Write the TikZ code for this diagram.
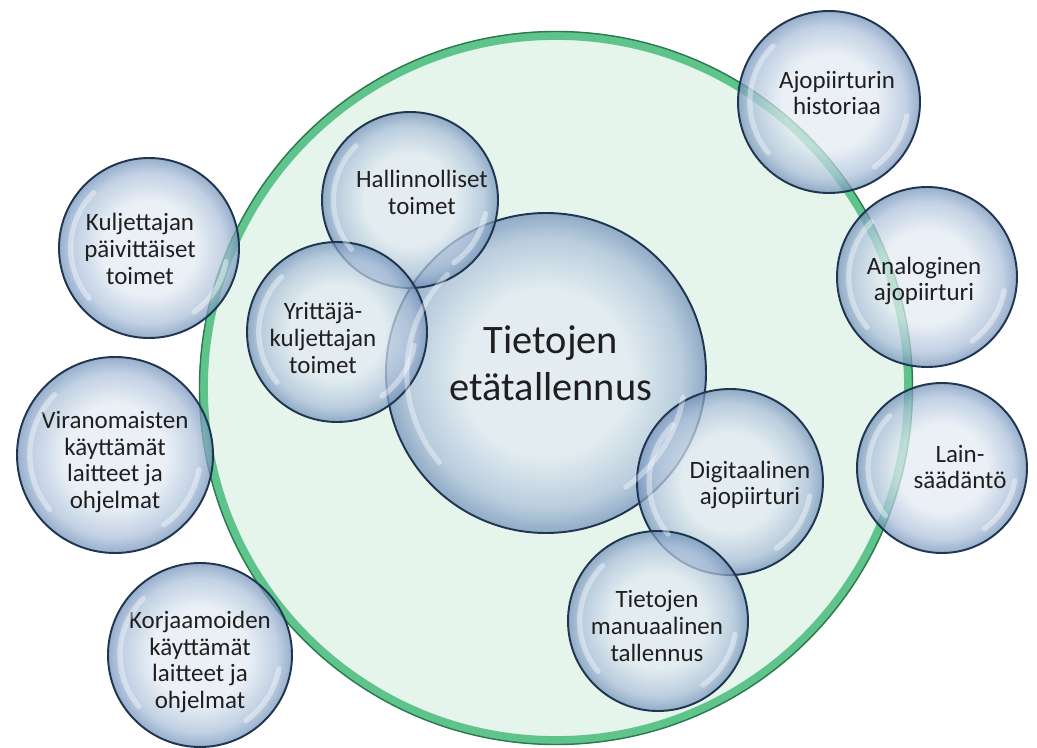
\documentclass[tikz,border=0pt]{standalone}
\usepackage{fontspec}
\setmainfont{Carlito}
\definecolor{bubblein}{HTML}{E2EAF3}
\definecolor{bubbleout}{HTML}{AABFD9}
\definecolor{bubblerim}{HTML}{6F8FB8}
\definecolor{bubbleedge}{HTML}{1F3550}
\definecolor{ringgreen}{HTML}{5EC48C}
\definecolor{ringdark}{HTML}{2B7A4B}
\definecolor{ringfill}{HTML}{E6F5EC}
% the inner 25bp of a radial shading cover the circle
\pgfdeclareradialshading{bubbleshade}{\pgfpoint{0bp}{0bp}}{color(0bp)=(bubblein); color(13bp)=(bubblein); color(21bp)=(bubbleout); color(25bp)=(bubblerim); color(50bp)=(bubblerim)}
\tikzset{
  bubble/.style={circle, draw=bubbleedge, line width=1.1pt, inner sep=0pt,
    shading=bubbleshade, fill opacity=0.72},
  bubtext/.style={align=center, text=black!88, font=\fontsize{14.2}{15.3}\selectfont},
  gloss/.style={white, line cap=round, opacity=0.4, line width=3pt},
}

\begin{document}
\begin{tikzpicture}[scale=1]

	\useasboundingbox (0,0) rectangle (20.74,14.94);

	% Green frame
	\fill[ringfill] (11.12,7.18) circle (7.12);
	\draw[ringgreen, line width=5pt] (11.12,7.18) circle (7.05);
	\draw[ringdark, line width=0.8pt] (11.12,7.18) circle (7.13);

	% Centre
	\node[bubble, minimum size=6.4cm] (main) at (10.92,7.48) {};
	\node[bubtext, font=\fontsize{23}{26.6}\selectfont] (main-t) at (11.02,7.68) {Tietojen\\etätallennus};

	% Inside the frame
	\node[bubble, minimum size=3.52cm] (hall) at (8.2,10.94) {};
	\node[bubtext] (hall-t) at (8.44,11.1) {Hallinnolliset\\toimet};

	\node[bubble, minimum size=3.6cm] (yrit) at (6.74,8.3) {};
	\node[bubtext] (yrit-t) at (6.46,8.18) {Yrittäjä-\\kuljettajan\\toimet};

	\node[bubble, minimum size=3.72cm] (digi) at (14.6,5.3) {};
	\node[bubtext] (digi-t) at (15.0,5.24) {Digitaalinen\\ajopiirturi};

	\node[bubble, minimum size=3.6cm] (manu) at (13.16,2.52) {};
	\node[bubtext] (manu-t) at (13.14,2.42) {Tietojen\\manuaalinen\\tallennus};

	% On the frame
	\node[bubble, minimum size=3.64cm] (hist) at (16.58,12.9) {};
	\node[bubtext] (hist-t) at (16.74,13.08) {Ajopiirturin\\historiaa};

	\node[bubble, minimum size=3.6cm] (anal) at (18.54,9.4) {};
	\node[bubtext] (anal-t) at (18.48,9.32) {Analoginen\\ajopiirturi};

	\node[bubble, minimum size=3.4cm] (lain) at (18.84,5.58) {};
	\node[bubtext] (lain-t) at (19.2,5.6) {Lain-\\säädäntö};

	% Outside the frame
	\node[bubble, minimum size=3.6cm] (kulj) at (2.98,9.98) {};
	\node[bubtext] (kulj-t) at (2.8,9.96) {Kuljettajan\\päivittäiset\\toimet};

	\node[bubble, minimum size=3.92cm] (viran) at (2.3,5.84) {};
	\node[bubtext] (viran-t) at (2.3,5.7) {Viranomaisten\\käyttämät\\laitteet ja\\ohjelmat};

	\node[bubble, minimum size=3.68cm] (korj) at (4.0,1.84) {};
	\node[bubtext] (korj-t) at (4.0,1.7) {Korjaamoiden\\käyttämät\\laitteet ja\\ohjelmat};

	% Gloss on the bubbles
	\foreach \n/\r in {main/3.2, hall/1.76, yrit/1.8, digi/1.86, manu/1.8, hist/1.82, anal/1.8, lain/1.7, kulj/1.8, viran/1.96, korj/1.84} {
		\draw[gloss] (\n.center) ++(135:{0.87*\r}) arc[start angle=135, end angle=220, radius={0.87*\r}];
		\draw[gloss] (\n.center) ++(-55:{0.87*\r}) arc[start angle=-55, end angle=-10, radius={0.87*\r}];
	}

\end{tikzpicture}
\end{document}
